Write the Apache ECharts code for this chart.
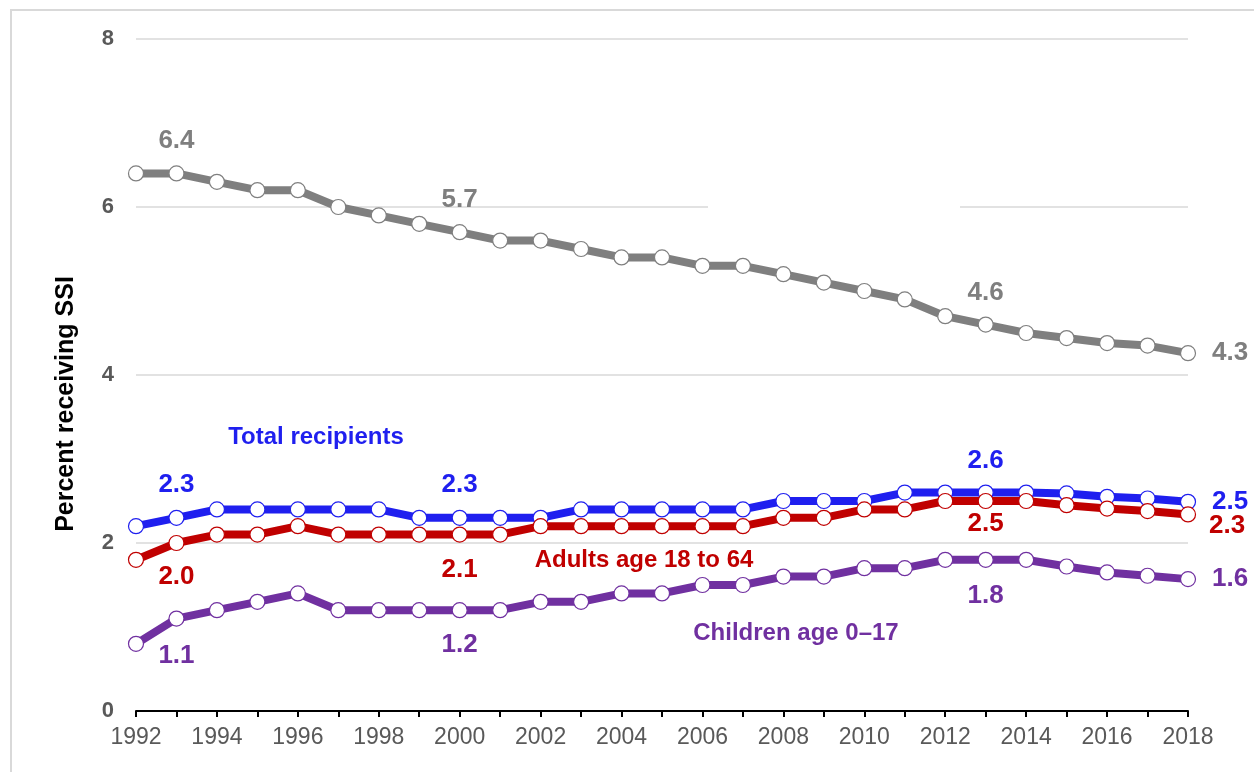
<!DOCTYPE html>
<html>
<head>
<meta charset="utf-8">
<title>Percent receiving SSI</title>
<script src="https://cdn.jsdelivr.net/npm/echarts@6/dist/echarts.min.js"></script>
<style>
  html, body { margin: 0; padding: 0; background: #ffffff; }
  #main { width: 1254px; height: 772px; }
</style>
</head>
<body>
<div id="main"></div>
<script>
// data
var years = ['1992', '1993', '1994', '1995', '1996', '1997', '1998', '1999', '2000', '2001',
  '2002', '2003', '2004', '2005', '2006', '2007', '2008', '2009', '2010', '2011',
  '2012', '2013', '2014', '2015', '2016', '2017', '2018'];
var aged65 = [6.4, 6.4, 6.3, 6.2, 6.2, 6.0, 5.9, 5.8, 5.7, 5.6, 5.6, 5.5, 5.4, 5.4, 5.3, 5.3,
  5.2, 5.1, 5.0, 4.9, 4.7, 4.6, 4.5, 4.44, 4.38, 4.35, 4.26];
var total = [2.2, 2.3, 2.4, 2.4, 2.4, 2.4, 2.4, 2.3, 2.3, 2.3, 2.3, 2.4, 2.4, 2.4, 2.4, 2.4,
  2.5, 2.5, 2.5, 2.6, 2.6, 2.6, 2.6, 2.59, 2.55, 2.53, 2.49];
var adults = [1.8, 2.0, 2.1, 2.1, 2.2, 2.1, 2.1, 2.1, 2.1, 2.1, 2.2, 2.2, 2.2, 2.2, 2.2, 2.2,
  2.3, 2.3, 2.4, 2.4, 2.5, 2.5, 2.5, 2.45, 2.41, 2.38, 2.34];
var children = [0.8, 1.1, 1.2, 1.3, 1.4, 1.2, 1.2, 1.2, 1.2, 1.2, 1.3, 1.3, 1.4, 1.4, 1.5, 1.5,
  1.6, 1.6, 1.7, 1.7, 1.8, 1.8, 1.8, 1.72, 1.65, 1.61, 1.57];
var yTicks = [0, 2, 4, 6, 8];

var FONT = 'Liberation Sans, Arial, Helvetica, sans-serif';
var GRAY = '#7f7f7f', BLUE = '#1f1fef', RED = '#c00000', PURPLE = '#7030a0';

// turn on a value label for a few points only
function withLabels(values, marks) {
  return values.map(function (v, i) {
    if (!marks[i]) return v;
    return { value: v, label: Object.assign({ show: true }, marks[i]) };
  });
}

function lineSeries(name, color, values, marks, z) {
  return {
    name: name,
    type: 'line',
    z: z,
    data: withLabels(values, marks),
    symbol: 'circle',
    symbolSize: 15,
    lineStyle: { color: color, width: 8 },
    itemStyle: { color: '#ffffff', borderColor: color, borderWidth: 1.2 },
    label: {
      show: false,
      color: color,
      fontFamily: FONT,
      fontSize: 26,
      fontWeight: 'bold',
      formatter: function (p) { return Number(p.value).toFixed(1); }
    },
    emphasis: { disabled: true },
    animation: false
  };
}

var chart = echarts.init(document.getElementById('main'));

var option = {
  backgroundColor: '#ffffff',
  grid: { left: 136, right: 66, top: 39, bottom: 61 },
  xAxis: {
    type: 'category',
    data: years,
    boundaryGap: false,
    axisLine: { lineStyle: { color: '#000000', width: 2 } },
    axisTick: { interval: 0, length: 6, lineStyle: { color: '#000000', width: 2 } },
    axisLabel: { interval: 1, color: '#595959', fontFamily: FONT, fontSize: 23, margin: 15 },
    splitLine: { show: false }
  },
  yAxis: {
    type: 'value',
    min: yTicks[0],
    max: yTicks[yTicks.length - 1],
    interval: 2,
    axisLine: { show: false },
    axisTick: { show: false },
    axisLabel: { color: '#595959', fontFamily: FONT, fontSize: 22, fontWeight: 'bold', margin: 22 },
    splitLine: { lineStyle: { color: '#d9d9d9', width: 1.5 } }
  },
  graphic: [
    // outer frame
    { type: 'rect', z: 0, shape: { x: 11, y: 10, width: 1400, height: 900 },
      style: { fill: null, stroke: '#d9d9d9', lineWidth: 2 } },
    // gap in the 6% gridline
    { type: 'rect', z: 1, shape: { x: 708, y: 203, width: 252, height: 8 },
      style: { fill: '#ffffff' } },
    { type: 'text', z: 10, x: 66, y: 404, rotation: Math.PI / 2,
      style: { text: 'Percent receiving SSI', fill: '#000000', font: 'bold 25px ' + FONT,
        align: 'center', verticalAlign: 'middle' } },
    { type: 'text', z: 10, x: 316, y: 437,
      style: { text: 'Total recipients', fill: BLUE, font: 'bold 24px ' + FONT,
        align: 'center', verticalAlign: 'middle' } },
    { type: 'text', z: 10, x: 644, y: 560,
      style: { text: 'Adults age 18 to 64', fill: RED, font: 'bold 24px ' + FONT,
        align: 'center', verticalAlign: 'middle' } },
    { type: 'text', z: 10, x: 796, y: 633,
      style: { text: 'Children age 0\u201317', fill: PURPLE, font: 'bold 24px ' + FONT,
        align: 'center', verticalAlign: 'middle' } }
  ],
  series: [
    lineSeries('Aged 65 or older', GRAY, aged65, {
      1: { position: 'top', distance: 11 },
      8: { position: 'top', distance: 11 },
      21: { position: 'top', distance: 11 },
      26: { position: 'right', distance: 16 }
    }, 2),
    lineSeries('Total recipients', BLUE, total, {
      1: { position: 'top', distance: 12 },
      8: { position: 'top', distance: 12 },
      21: { position: 'top', distance: 11 },
      26: { position: 'right', distance: 16 }
    }, 3),
    lineSeries('Adults age 18 to 64', RED, adults, {
      1: { position: 'bottom', distance: 13 },
      8: { position: 'bottom', distance: 14 },
      21: { position: 'bottom', distance: 2 },
      26: { position: 'right', distance: 13, offset: [0, 11] }
    }, 4),
    lineSeries('Children age 0\u201317', PURPLE, children, {
      1: { position: 'bottom', distance: 16 },
      8: { position: 'bottom', distance: 14 },
      21: { position: 'bottom', distance: 15 },
      26: { position: 'right', distance: 16 }
    }, 3)
  ]
};

chart.setOption(option);
</script>
</body>
</html>
